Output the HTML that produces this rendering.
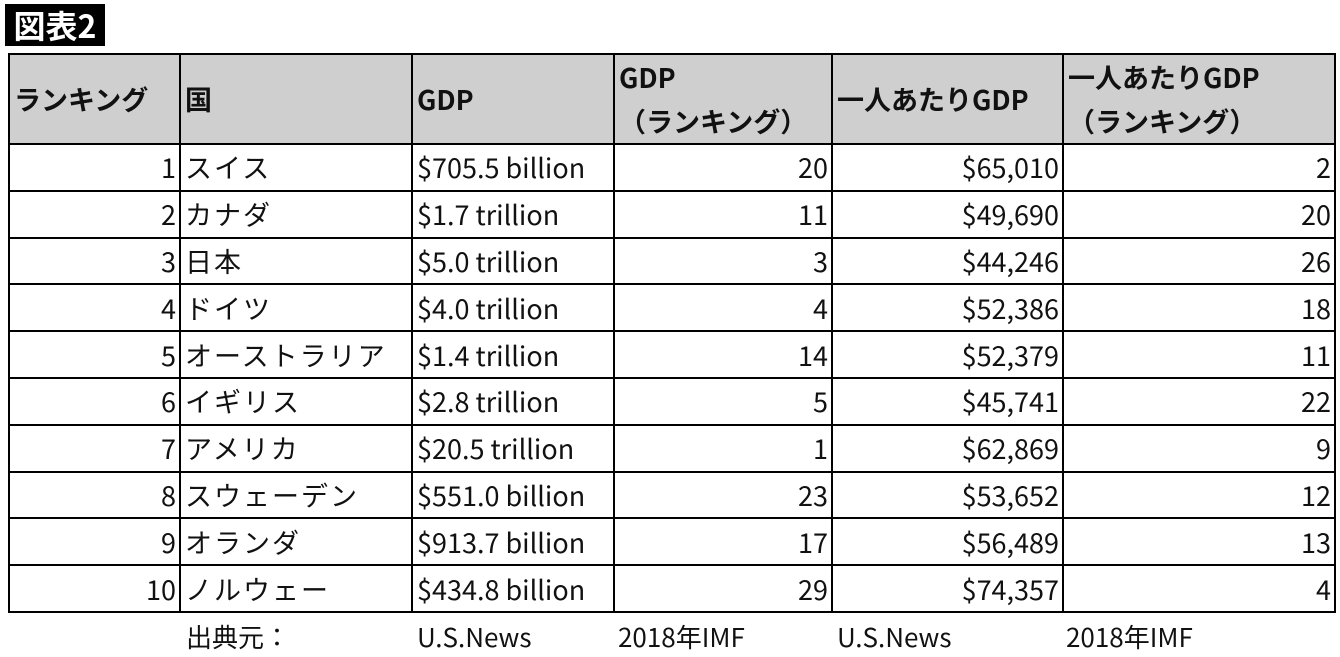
<!DOCTYPE html>
<html><head><meta charset="utf-8"><style>
body{margin:0;width:1340px;height:655px;background:#fff;position:relative;overflow:hidden;font-family:"Noto Sans CJK JP",sans-serif;color:#111}
#title{position:absolute;left:5px;top:4px;width:100px;height:42px;background:#000;color:#fff;font-size:32px;font-weight:bold;line-height:42px;text-align:center}
table{position:absolute;left:8px;top:53px;border-collapse:collapse;table-layout:fixed;width:1326px}
td{border:2.5px solid #000;font-size:27px;padding:0 4px;white-space:nowrap;height:44.8px;line-height:30px;font-weight:400;font-family:"Noto Sans CJK JP",sans-serif}
td.n{text-align:right;padding-right:3px}
td.j{letter-spacing:2px}
tr.h td{background:#d0cfcf;font-weight:bold;height:87px;font-size:27px;line-height:44px;vertical-align:middle}
.f{position:absolute;top:617px;font-size:26px;line-height:40px;font-weight:400}
</style></head><body>
<div id="title">図表2</div>
<table>
<colgroup><col style="width:171px"><col style="width:232px"><col style="width:202px"><col style="width:218px"><col style="width:231px"><col style="width:272px"></colgroup>
<tr class="h"><td>ランキング</td><td>国</td><td>GDP</td><td style="vertical-align:top">GDP<br>（ランキング）</td><td>一人あたりGDP</td><td style="vertical-align:top">一人あたりGDP<br>（ランキング）</td></tr>
<tr><td class="n">1</td><td class="j">スイス</td><td>$705.5 billion</td><td class="n">20</td><td class="n">$65,010</td><td class="n">2</td></tr>
<tr><td class="n">2</td><td class="j">カナダ</td><td>$1.7 trillion</td><td class="n">11</td><td class="n">$49,690</td><td class="n">20</td></tr>
<tr><td class="n">3</td><td class="j">日本</td><td>$5.0 trillion</td><td class="n">3</td><td class="n">$44,246</td><td class="n">26</td></tr>
<tr><td class="n">4</td><td class="j">ドイツ</td><td>$4.0 trillion</td><td class="n">4</td><td class="n">$52,386</td><td class="n">18</td></tr>
<tr><td class="n">5</td><td class="j">オーストラリア</td><td>$1.4 trillion</td><td class="n">14</td><td class="n">$52,379</td><td class="n">11</td></tr>
<tr><td class="n">6</td><td class="j">イギリス</td><td>$2.8 trillion</td><td class="n">5</td><td class="n">$45,741</td><td class="n">22</td></tr>
<tr><td class="n">7</td><td class="j">アメリカ</td><td>$20.5 trillion</td><td class="n">1</td><td class="n">$62,869</td><td class="n">9</td></tr>
<tr><td class="n">8</td><td class="j">スウェーデン</td><td>$551.0 billion</td><td class="n">23</td><td class="n">$53,652</td><td class="n">12</td></tr>
<tr><td class="n">9</td><td class="j">オランダ</td><td>$913.7 billion</td><td class="n">17</td><td class="n">$56,489</td><td class="n">13</td></tr>
<tr><td class="n">10</td><td class="j">ノルウェー</td><td>$434.8 billion</td><td class="n">29</td><td class="n">$74,357</td><td class="n">4</td></tr>
</table>
<div class="f" style="left:186px">出典元：</div>
<div class="f" style="left:417px">U.S.News</div>
<div class="f" style="left:618px">2018年IMF</div>
<div class="f" style="left:837px">U.S.News</div>
<div class="f" style="left:1066px">2018年IMF</div>
</body></html>
